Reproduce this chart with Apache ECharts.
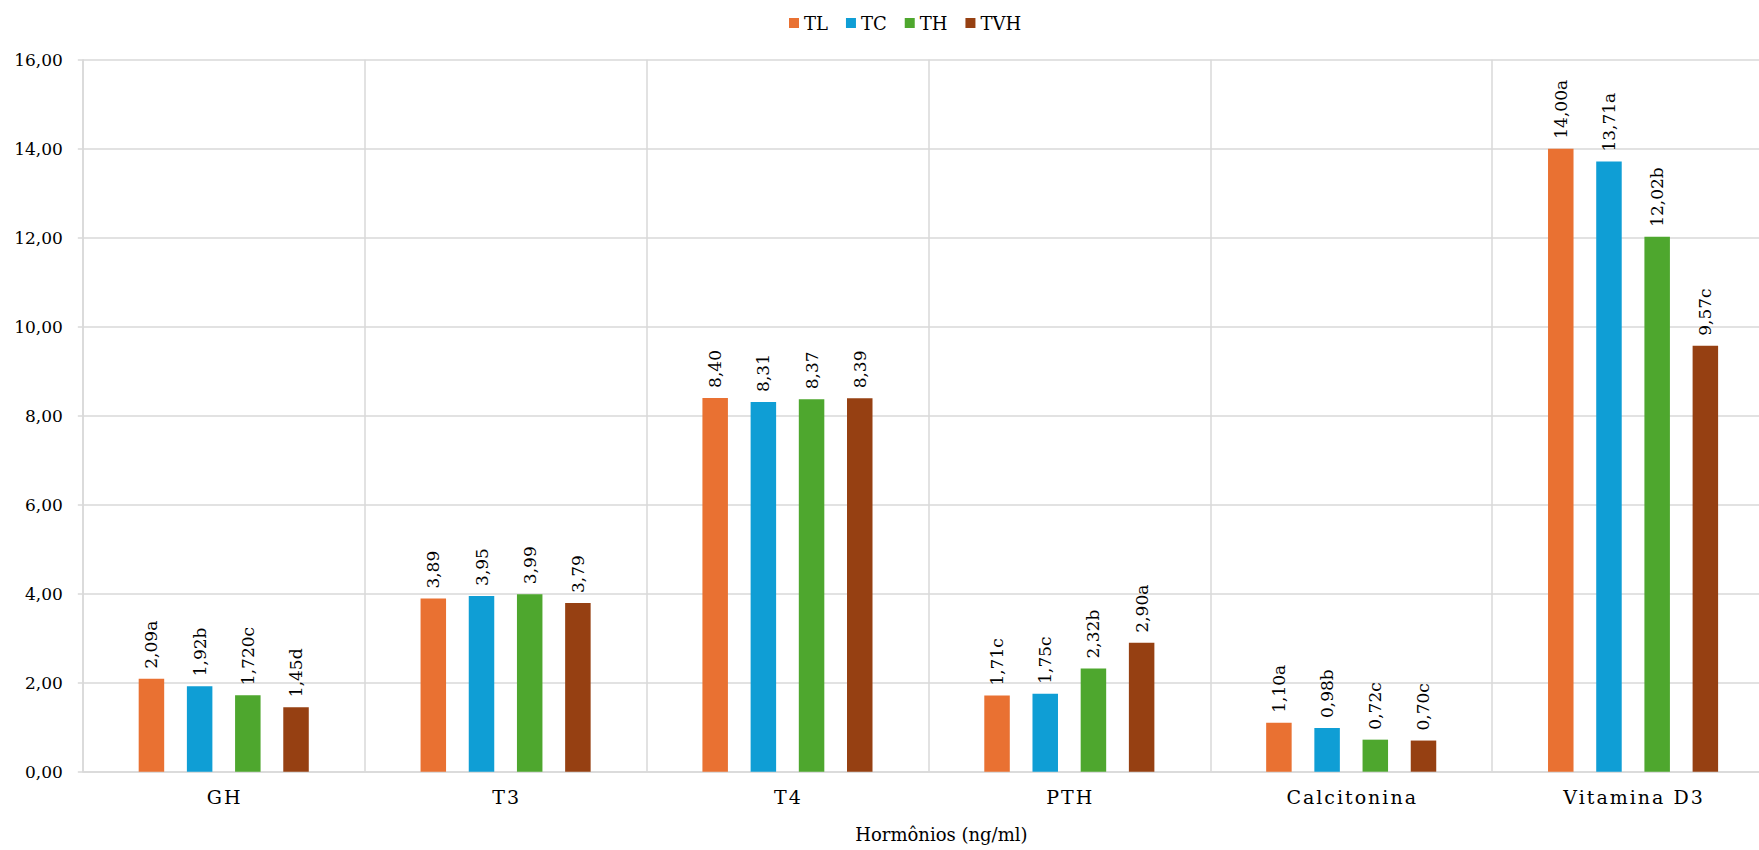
<!DOCTYPE html>
<html>
<head>
<meta charset="utf-8">
<title>Hormônios (ng/ml)</title>
<script src="https://cdn.jsdelivr.net/npm/echarts@6/dist/echarts.min.js"></script>
<style>
  html, body { margin: 0; padding: 0; background: #ffffff; overflow: hidden; }
  #chart { width: 1759px; height: 850px; }
</style>
</head>
<body>
<div id="chart"></div>
<script>
// Hormone categories on the x axis
const categories = ['GH', 'T3', 'T4', 'PTH', 'Calcitonina', 'Vitamina D3'];

// Treatment series values (ng/ml)
const tlValues  = [2.09, 3.89, 8.40, 1.71, 1.10, 14.00];
const tcValues  = [1.92, 3.95, 8.31, 1.75, 0.98, 13.71];
const thValues  = [1.72, 3.99, 8.37, 2.32, 0.72, 12.02];
const tvhValues = [1.45, 3.79, 8.39, 2.90, 0.70, 9.57];

// Value labels with significance letters
const tlLabels  = ['2,09a', '3,89', '8,40', '1,71c', '1,10a', '14,00a'];
const tcLabels  = ['1,92b', '3,95', '8,31', '1,75c', '0,98b', '13,71a'];
const thLabels  = ['1,720c', '3,99', '8,37', '2,32b', '0,72c', '12,02b'];
const tvhLabels = ['1,45d', '3,79', '8,39', '2,90a', '0,70c', '9,57c'];

// Series names
const seriesNames = ['TL', 'TC', 'TH', 'TVH'];

// Y axis range
const yMin = 0, yMax = 16, yStep = 2;

const FONT = 'DejaVu Serif';
const GRID = '#d9d9d9';
const colors = ['#e97132', '#0f9ed5', '#4ea72e', '#964012'];

function makeSeries(name, values, labels, color) {
  return {
    name: name,
    type: 'bar',
    data: values,
    barWidth: 25.5,
    barGap: '89%',
    itemStyle: { color: color },
    label: {
      show: true,
      position: 'top',
      rotate: 90,
      align: 'left',
      verticalAlign: 'middle',
      distance: 10,
      fontFamily: FONT,
      fontSize: 17,
      color: '#000',
      formatter: p => labels[p.dataIndex]
    }
  };
}

const chart = echarts.init(document.getElementById('chart'), null, { renderer: 'svg' });

chart.setOption({
  animation: false,
  backgroundColor: '#ffffff',
  color: colors,
  textStyle: { fontFamily: FONT },
  legend: {
    data: seriesNames,
    left: 784,
    top: 9,
    itemWidth: 10,
    itemHeight: 10,
    itemGap: 18,
    icon: 'rect',
    textStyle: { fontFamily: FONT, fontSize: 18, color: '#000' }
  },
  grid: {
    left: 82.8, right: -15, top: 59.7, bottom: 78.3,
    containLabel: false,
    outerBoundsMode: 'none'
  },
  xAxis: {
    type: 'category',
    data: categories,
    name: 'Hormônios (ng/ml)',
    nameLocation: 'middle',
    nameGap: 54,
    nameTextStyle: { fontFamily: FONT, fontSize: 18, color: '#000', padding: [0, 0, 0, 26] },
    axisLine: { show: true, lineStyle: { color: GRID, width: 1.5 } },
    axisTick: { show: false },
    axisLabel: { fontFamily: FONT, fontSize: 19, color: '#000', margin: 16 },
    splitLine: { show: true, lineStyle: { color: GRID, width: 1.5 } }
  },
  yAxis: {
    type: 'value',
    min: yMin,
    max: yMax,
    interval: yStep,
    axisLine: { show: true, lineStyle: { color: GRID, width: 1.5 } },
    axisTick: { show: true, length: 5, lineStyle: { color: GRID, width: 1.5 } },
    axisLabel: {
      fontFamily: FONT, fontSize: 17, color: '#000', margin: 20,
      formatter: v => v.toFixed(2).replace('.', ',')
    },
    splitLine: { show: true, lineStyle: { color: GRID, width: 1.5 } }
  },
  series: [
    makeSeries(seriesNames[0], tlValues, tlLabels, colors[0]),
    makeSeries(seriesNames[1], tcValues, tcLabels, colors[1]),
    makeSeries(seriesNames[2], thValues, thLabels, colors[2]),
    makeSeries(seriesNames[3], tvhValues, tvhLabels, colors[3])
  ]
});

// Expanded character spacing on the category labels
function spaceCategoryLabels() {
  document.querySelectorAll('#chart svg text').forEach(t => {
    if (categories.includes(t.textContent)) {
      t.setAttribute('letter-spacing', '2');
      t.setAttribute('dx', '1');
    }
  });
}
spaceCategoryLabels();
chart.on('finished', spaceCategoryLabels);
</script>
</body>
</html>
